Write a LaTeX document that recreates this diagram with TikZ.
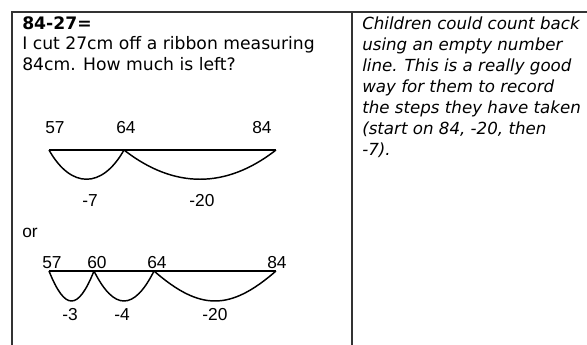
\documentclass[tikz,border=0pt]{standalone}
\usepackage{fontspec}
\setmainfont{DejaVu Sans}
\newfontfamily\numfont{Liberation Sans}
\usetikzlibrary{positioning}

\begin{document}
\begin{tikzpicture}[
  x=0.75pt, y=0.75pt,
  txt/.style={font=\fontsize{12.9}{16}\selectfont, inner sep=0pt,
              align=left, anchor=base west},
  num/.style={font=\numfont\fontsize{13}{15}\selectfont, inner sep=0pt, anchor=base},
  rule/.style={line width=1pt, draw=black!80},
  jump/.style={line width=1.1pt, draw=black}
]
\useasboundingbox (0,0) rectangle (587,345);

% ── Table rules ──
\coordinate (tl) at (12,333);
\coordinate (tr) at (587,333);
\coordinate (bl) at (12,0);
\coordinate (tm) at (352,333);
\coordinate (bm) at (352,0);
\draw[rule] (tr) -- (tl) -- (bl);
\draw[rule] (tm) -- (bm);

% ── Left column text (base = last line) ──
\node[txt, font=\fontsize{12.9}{16}\selectfont\bfseries] (head) at (22,315) {84-27=};
\node[txt] (task) at (22,274) {I cut 27cm off a ribbon measuring\\84cm. How much is left?};

% ── First number line ──
\coordinate (a57) at (49,195);
\coordinate (a64) at (124,195);
\coordinate (a84) at (276,195);
\draw[jump] (a57) -- (a84);
\draw[jump] (a57) .. controls +(22,-39) and +(-22,-39) .. (a64);
\draw[jump] (a64) .. controls +(50,-39) and +(-50,-39) .. (a84);
\node[num] (t57) at (55,211)  {57};
\node[num] (t64) at (126,211) {64};
\node[num] (t84) at (262,211) {84};
\node[num] (s7)  at (90,138)  {-7};
\node[num] (s20) at (202,138) {-20};

\node[num, anchor=base west] (or) at (22,107) {or};

% ── Second number line ──
\coordinate (b57) at (49,74);
\coordinate (b60) at (94,74);
\coordinate (b64) at (154,74);
\coordinate (b84) at (276,74);
\draw[jump] (b57) -- (b84);
\draw[jump] (b57) .. controls +(16,-40) and +(-16,-40) .. (b60);
\draw[jump] (b60) .. controls +(20,-40) and +(-20,-40) .. (b64);
\draw[jump] (b64) .. controls +(46,-40) and +(-46,-40) .. (b84);
\node[num] (u57) at (52,76)  {57};
\node[num] (u60) at (97,76)  {60};
\node[num] (u64) at (157,76) {64};
\node[num] (u84) at (277,76) {84};
\node[num] (r3)  at (70,24)  {-3};
\node[num] (r4)  at (122,24) {-4};
\node[num] (r20) at (215,24) {-20};

% ── Right column note (base = last line) ──
\node[txt, font=\fontsize{12.5}{15.75}\selectfont\itshape] (note) at (362,189)
  {Children could count back\\using an empty number\\line. This is a really good\\way for them to record\\the steps they have taken\\(start on 84, -20, then\\-7).};
\end{tikzpicture}
\end{document}
